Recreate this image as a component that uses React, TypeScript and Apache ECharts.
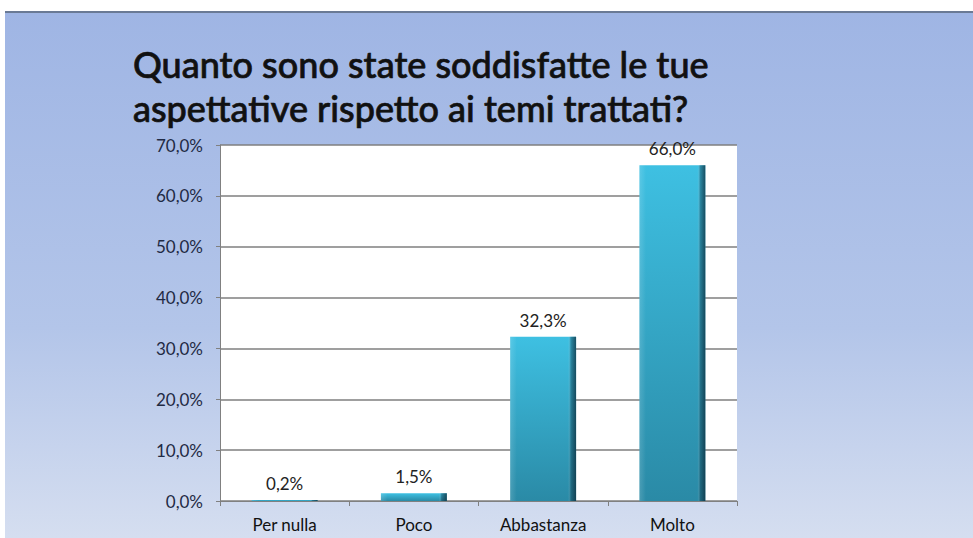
import React, { useEffect, useRef } from "react";
import * as echarts from "echarts";

const categories = ["Per nulla", "Poco", "Abbastanza", "Molto"];
const values = [0.2, 1.5, 32.3, 66.0];
const titleLines = ["Quanto sono state soddisfatte le tue", "aspettative rispetto ai temi trattati?"];
const yMin = 0;
const yMax = 70;
const yInterval = 10;

const fmt = (v: number) => v.toFixed(1).replace(".", ",") + "%";

export default function App() {
  const ref = useRef<HTMLDivElement>(null);
  useEffect(() => {
    if (!ref.current) return;
    const chart = echarts.init(ref.current, null, { renderer: "svg" });
    const font = "Lato, 'Open Sans', sans-serif";
    chart.setOption({
      animation: false,
      backgroundColor: "#ffffff",
      graphic: [
        {
          type: "rect",
          shape: { x: 5, y: 12, width: 968, height: 526 },
          style: {
            fill: new echarts.graphic.LinearGradient(0, 0, 0, 1, [
              { offset: 0, color: "#9fb5e4" },
              { offset: 0.6, color: "#b3c5e9" },
              { offset: 1, color: "#d5def0" },
            ]),
          },
          z: -10,
        },
        {
          type: "line",
          shape: { x1: 5, y1: 12, x2: 973, y2: 12 },
          style: { stroke: "#6a7a95", lineWidth: 2 },
          z: -9,
        },
        {
          type: "text",
          x: 133,
          y: 42,
          style: {
            text: titleLines.join("\n"),
            font: `500 36px ${font}`,
            fill: "#111111",
            stroke: "#111111",
            lineWidth: 0.7,
            lineHeight: 44,
          },
        },
      ],
      grid: {
        left: 220,
        right: 236,
        top: 145,
        bottom: 37,
        show: true,
        backgroundColor: "#ffffff",
        borderWidth: 0,
      },
      xAxis: {
        type: "category",
        data: categories,
        axisLine: { lineStyle: { color: "#808080", width: 1 } },
        axisTick: { show: true, length: 5, alignWithLabel: false, lineStyle: { color: "#808080" } },
        axisLabel: { color: "#111111", fontFamily: font, fontSize: 17, margin: 15 },
      },
      yAxis: {
        type: "value",
        min: yMin,
        max: yMax,
        interval: yInterval,
        axisLine: { show: true, lineStyle: { color: "#808080", width: 1 } },
        axisTick: { show: true, length: 4, lineStyle: { color: "#808080" } },
        axisLabel: {
          color: "#1f2a44",
          fontFamily: font,
          fontSize: 17,
          margin: 17,
          formatter: (v: number) => fmt(v),
        },
        splitLine: { lineStyle: { color: "#7f7f7f", width: 1.5 } },
      },
      series: [
        {
          type: "bar",
          data: values,
          barWidth: "51%",
          itemStyle: {
            color: new echarts.graphic.LinearGradient(0, 0, 0, 1, [
              { offset: 0, color: "#3ec0e2" },
              { offset: 1, color: "#2a8aa6" },
            ]),
          },
          label: {
            show: true,
            position: "top",
            distance: 8,
            color: "#222222",
            fontFamily: font,
            fontSize: 17,
            formatter: (p: any) => fmt(p.value),
          },
          z: 2,
        },
        {
          type: "bar",
          data: values,
          barWidth: "51%",
          barGap: "-100%",
          silent: true,
          itemStyle: {
            color: new echarts.graphic.LinearGradient(1, 0, 0, 0, [
              { offset: 0, color: "rgba(10,40,55,0.75)" },
              { offset: 0.08, color: "rgba(10,40,55,0.35)" },
              { offset: 0.12, color: "rgba(255,255,255,0)" },
              { offset: 0.9, color: "rgba(255,255,255,0)" },
              { offset: 1, color: "rgba(255,255,255,0.15)" },
            ]),
          },
          z: 3,
        },
      ],
    });
    return () => chart.dispose();
  }, []);
  return <div ref={ref} style={{ width: 973, height: 538, position: "absolute", left: 0, top: 0 }} />;
}
